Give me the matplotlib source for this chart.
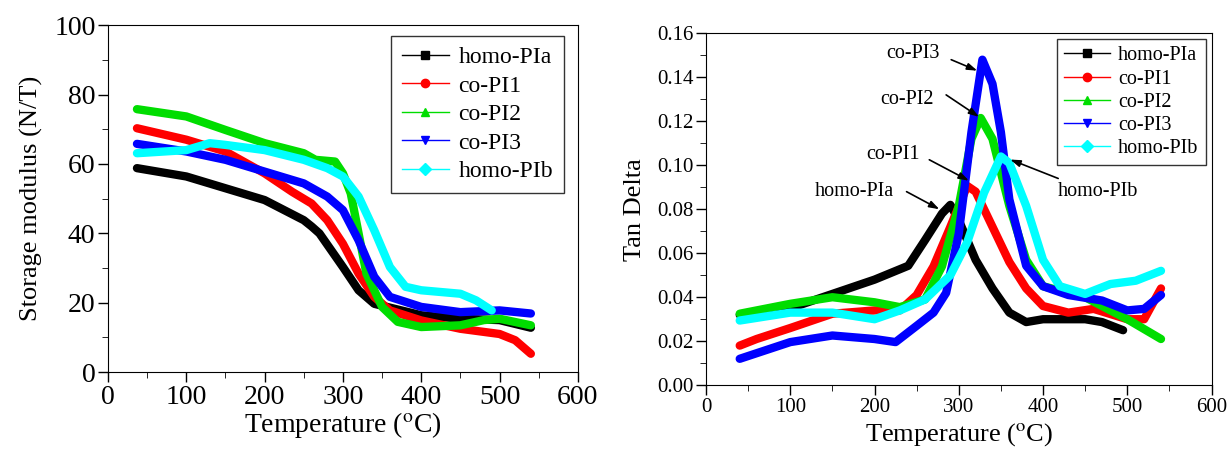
import numpy as np
import matplotlib.pyplot as plt
from matplotlib.lines import Line2D

plt.rcParams['font.family'] = 'Liberation Serif'
plt.rcParams['mathtext.fontset'] = 'stix'

names = ['homo-PIa', 'co-PI1', 'co-PI2', 'co-PI3', 'homo-PIb']
colors = ['#000000', '#ff0000', '#00dd00', '#0000ff', '#00ffff']
markers = ['s', 'o', '^', 'v', 'D']

# storage modulus (left)
sm_T = [
	[37, 100, 200, 250, 260, 270, 300, 320, 340, 400, 450, 500, 540],
	[37, 100, 150, 200, 235, 260, 280, 300, 320, 340, 360, 400, 450, 500, 520, 540],
	[37, 100, 150, 200, 250, 265, 290, 300, 310, 320, 330, 350, 370, 400, 450, 480, 500, 540],
	[37, 100, 150, 200, 250, 280, 300, 320, 340, 360, 400, 450, 500, 540],
	[37, 100, 130, 150, 200, 250, 280, 300, 320, 340, 360, 380, 400, 450, 470, 490],
]
sm_V = [
	[58.8, 56.4, 49.6, 43.8, 42.0, 40.0, 30.3, 23.6, 19.7, 16.4, 15.4, 15.0, 12.8],
	[70.3, 67.0, 63.6, 57.3, 52.0, 48.6, 43.8, 37.0, 28.4, 21.7, 17.8, 14.9, 12.5, 11.0, 9.2, 5.3],
	[75.8, 73.7, 69.8, 66.0, 63.1, 61.2, 60.7, 57.3, 51.5, 40.0, 28.4, 18.8, 14.5, 13.0, 13.5, 15.0, 15.4, 13.5],
	[65.8, 63.6, 61.2, 57.8, 54.4, 50.6, 46.7, 38.0, 27.5, 21.7, 18.8, 17.3, 17.8, 16.9],
	[63.1, 64.0, 66.0, 65.5, 64.0, 61.2, 58.8, 56.4, 50.6, 40.9, 30.3, 24.6, 23.6, 22.6, 20.7, 17.8],
]

# tan delta (right)
td_T = [
	[40, 100, 150, 200, 240, 260, 280, 290, 300, 320, 340, 360, 380, 400, 450, 470, 495],
	[40, 60, 100, 150, 200, 230, 250, 270, 290, 310, 320, 340, 360, 380, 400, 430, 460, 500, 520, 540],
	[40, 100, 150, 200, 230, 260, 280, 300, 315, 326, 340, 360, 380, 400, 450, 500, 540],
	[40, 100, 150, 200, 225, 250, 270, 285, 300, 315, 328, 340, 350, 360, 380, 400, 430, 470, 500, 520, 540],
	[40, 100, 150, 200, 230, 260, 290, 310, 330, 350, 360, 380, 400, 420, 450, 480, 510, 540],
]
td_V = [
	[0.032, 0.035, 0.0415, 0.048, 0.0543, 0.066, 0.078, 0.082, 0.075, 0.057, 0.044, 0.033, 0.0287, 0.030, 0.030, 0.0287, 0.025],
	[0.018, 0.021, 0.026, 0.0325, 0.034, 0.034, 0.041, 0.054, 0.072, 0.0906, 0.088, 0.072, 0.056, 0.044, 0.036, 0.033, 0.0347, 0.030, 0.030, 0.044],
	[0.0325, 0.037, 0.040, 0.0377, 0.0355, 0.039, 0.054, 0.0815, 0.112, 0.1215, 0.112, 0.0815, 0.057, 0.045, 0.040, 0.030, 0.021],
	[0.012, 0.0196, 0.0226, 0.021, 0.0196, 0.027, 0.033, 0.042, 0.069, 0.115, 0.148, 0.137, 0.115, 0.0845, 0.0543, 0.045, 0.041, 0.0385, 0.034, 0.0347, 0.041],
	[0.0294, 0.033, 0.033, 0.030, 0.034, 0.039, 0.050, 0.065, 0.0875, 0.104, 0.101, 0.0815, 0.057, 0.045, 0.0415, 0.046, 0.0475, 0.052],
]

# arrow labels on tan delta: label position, arrow start, arrow tip
ann_text = ['co-PI3', 'co-PI2', 'co-PI1', 'homo-PIa', 'homo-PIb']
ann_txt = [(246, 0.151), (239, 0.130), (222, 0.105), (176, 0.088), (465, 0.088)]
ann_from = [(291, 0.148), (285, 0.132), (265, 0.1025), (238, 0.088), (418, 0.094)]
ann_to = [(322, 0.143), (324, 0.122), (312, 0.093), (277, 0.080), (361, 0.1026)]

xlab = 'Temperature ($^{\\rm o}$C)'

fig = plt.figure(figsize=(12.3, 4.5), dpi=100)
ax1 = fig.add_axes([0.0878, 0.173, 0.382, 0.771])
ax2 = fig.add_axes([0.574, 0.144, 0.411, 0.782])

for i in range(5):
	ax1.plot(sm_T[i], sm_V[i], color=colors[i], lw=6, solid_capstyle='round', solid_joinstyle='round')
	ax2.plot(td_T[i], td_V[i], color=colors[i], lw=6, solid_capstyle='round', solid_joinstyle='round')

handles = [Line2D([0], [0], color=colors[i], lw=1, marker=markers[i], markersize=6) for i in range(5)]

ax1.set_xlim(0, 600)
ax1.set_ylim(0, 100)
ax1.set_xticks(np.arange(0, 601, 100))
ax1.set_xticks(np.arange(50, 600, 100), minor=True)
ax1.set_yticks(np.arange(0, 101, 20))
ax1.set_yticks(np.arange(10, 100, 20), minor=True)
ax1.tick_params(direction='out', labelsize=20, length=7, width=1, pad=2)
ax1.tick_params(which='minor', direction='out', length=4)
ax1.set_xlabel(xlab, fontsize=20, labelpad=0)
ax1.set_ylabel('Storage modulus (N/T)', fontsize=19, labelpad=8)
leg1 = ax1.legend(handles, names, loc='upper right', fontsize=17, frameon=True, fancybox=False,
	edgecolor='black', handlelength=2.0, borderaxespad=0.3, labelspacing=0.3, borderpad=0.45,
	handletextpad=0.4, bbox_to_anchor=(0.985, 0.99))
leg1.get_frame().set_linewidth(1)

ax2.set_xlim(0, 600)
ax2.set_ylim(0, 0.16)
ax2.set_xticks(np.arange(0, 601, 100))
ax2.set_xticks(np.arange(50, 600, 100), minor=True)
ax2.set_yticks(np.arange(0, 0.161, 0.02))
ax2.set_yticks(np.arange(0.01, 0.16, 0.02), minor=True)
ax2.yaxis.set_major_formatter(plt.FormatStrFormatter('%.2f'))
ax2.tick_params(direction='out', labelsize=15, length=7, width=1, pad=2)
ax2.tick_params(which='minor', direction='out', length=4)
ax2.set_xlabel(xlab, fontsize=19, labelpad=3)
ax2.set_ylabel('Tan Delta', fontsize=19, labelpad=8)
leg2 = ax2.legend(handles, names, loc='upper right', fontsize=14.5, frameon=True, fancybox=False,
	edgecolor='black', handlelength=2.3, borderaxespad=0.3, labelspacing=0.2, borderpad=0.35,
	handletextpad=0.4)
leg2.get_frame().set_linewidth(1)

for i in range(5):
	ax2.text(ann_txt[i][0], ann_txt[i][1], ann_text[i], fontsize=14.5, ha='center', va='center')
	ax2.annotate('', xy=ann_to[i], xytext=ann_from[i],
		arrowprops=dict(arrowstyle='-|>,head_length=0.6,head_width=0.2', color='black', lw=1.2,
			shrinkA=0, shrinkB=0))

plt.savefig('out.png', dpi=100)
